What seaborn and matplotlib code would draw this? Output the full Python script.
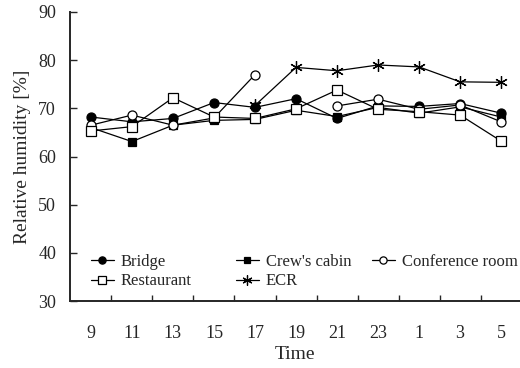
import numpy as np
import pandas as pd
import matplotlib
matplotlib.use("Agg")
import matplotlib.pyplot as plt
import seaborn as sns

times = ["9", "11", "13", "15", "17", "19", "21", "23", "1", "3", "5"]
bridge = [68.2, 67.2, 67.9, 71.2, 70.2, 72.0, 67.9, 70.5, 70.4, 71.0, 69.0]
crews_cabin = [66.0, 63.1, 66.5, 67.5, 67.7, 69.6, 68.3, 70.2, 69.0, 70.3, 68.2]
conference = [66.5, 68.6, 66.5, 68.0, 77.0, np.nan, 70.5, 71.9, 69.8, 70.7, 67.2]
restaurant = [65.3, 66.2, 72.2, 68.2, 67.9, 69.9, 73.8, 69.8, 69.3, 68.6, 63.2]
ecr = [np.nan, np.nan, np.nan, np.nan, 70.6, 78.5, 77.8, 79.0, 78.6, 75.5, 75.4]

names = ["Bridge", "Crew's cabin", "Conference room", "Restaurant", "ECR"]
series = [bridge, crews_cabin, conference, restaurant, ecr]
markers = ["o", "s", "o", "s", (6, 2, 0)]
faces = ["black", "black", "white", "white", "black"]
msizes = [6.5, 6.0, 6.5, 6.5, 9.0]

sns.set_style("ticks")
plt.rcParams["font.family"] = ["Liberation Serif", "DejaVu Serif"]

fig = plt.figure(figsize=(5.2, 3.68), dpi=100)
ax = fig.add_axes([70 / 520, 67 / 368, 450 / 520, 289 / 368])

x = np.arange(len(times))
handles = {}
for name, vals, mk, fc, ms in zip(names, series, markers, faces, msizes):
    vals = np.asarray(vals, dtype=float)
    seg = np.cumsum(np.isnan(vals))
    df = pd.DataFrame({"x": x, "y": vals, "seg": seg}).dropna()
    first = True
    for s, sub in df.groupby("seg"):
        sns.lineplot(data=sub, x="x", y="y", ax=ax, color="black", lw=0.9,
                     marker=mk, markersize=ms, markerfacecolor=fc,
                     markeredgecolor="black", markeredgewidth=0.9,
                     label=name if first else None, legend=False, zorder=3)
        first = False
    handles[name] = ax.lines[-1]

ax.set_xlim(-0.51, 10.46)
ax.set_ylim(30, 90)
ax.set_yticks(np.arange(30, 91, 10))
ax.set_xticks(x)
ax.set_xticklabels(times)
ax.set_xticks(x[:-1] + 0.5, minor=True)
ax.tick_params(axis="x", which="major", length=0, pad=17, labelsize=13)
ax.tick_params(axis="x", which="minor", direction="in", length=4, width=1)
ax.tick_params(axis="y", direction="in", length=5, width=1, labelsize=13, pad=10)
for sp in ["top", "right"]:
    ax.spines[sp].set_visible(False)
for sp in ["left", "bottom"]:
    ax.spines[sp].set_linewidth(1.4)
ax.set_xlabel("Time", fontsize=14, labelpad=3)
ax.set_ylabel("Relative humidity [%]", fontsize=14, labelpad=5)

cols = [(["Bridge", "Restaurant"], 91), (["Crew's cabin", "ECR"], 236),
        (["Conference room"], 372)]
top_frac = (301 - 254) / 289
for labels, px in cols:
    leg = ax.legend([handles[n] for n in labels], labels, frameon=False,
                    loc="upper left", bbox_to_anchor=((px - 70) / 450, top_frac),
                    fontsize=12, handlelength=1.35, handletextpad=0.45,
                    labelspacing=0.2, numpoints=1, borderaxespad=0,
                    borderpad=0, markerscale=0.8)
    ax.add_artist(leg)
ax.legend_ = None

fig.savefig("out.png", dpi=100)
